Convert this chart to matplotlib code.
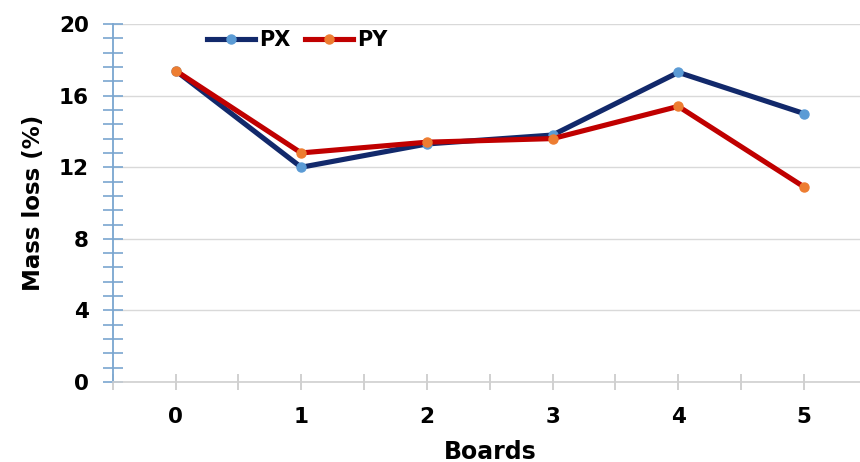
import numpy as np
import matplotlib.pyplot as plt
from matplotlib.ticker import MultipleLocator

# Data
boards = [0, 1, 2, 3, 4, 5]
px = [17.4, 12.0, 13.3, 13.8, 17.3, 15.0]
py = [17.4, 12.8, 13.4, 13.6, 15.4, 10.9]

fig = plt.figure(figsize=(8.6, 4.62), dpi=100)
ax = fig.add_axes([0.131, 0.173, 0.877, 0.775])

ax.plot(boards, px, color='#12296b', lw=3.7, marker='o', ms=6.5,
        mfc='#5b9bd5', mec='#5b9bd5', label='PX', zorder=3)
ax.plot(boards, py, color='#c00000', lw=3.7, marker='o', ms=6.5,
        mfc='#ed7d31', mec='#ed7d31', label='PY', zorder=3)

ax.set_xlim(-0.5, 5.5)
ax.set_ylim(0, 20)
ax.set_xticks(boards)
ax.set_xticks(np.arange(-0.5, 5.6, 1), minor=True)
ax.yaxis.set_major_locator(MultipleLocator(4))
ax.yaxis.set_minor_locator(MultipleLocator(0.8))

ax.grid(axis='y', color='#d9d9d9', lw=1)
ax.set_axisbelow(True)

for s in ['top', 'right']:
    ax.spines[s].set_visible(False)
ax.spines['left'].set_color('#7aa6d0')
ax.spines['left'].set_linewidth(1.3)
ax.spines['bottom'].set_color('#d0d0d0')
ax.spines['bottom'].set_linewidth(1.2)

ax.tick_params(axis='y', which='both', direction='inout', color='#7aa6d0',
               length=14, width=1.2, labelsize=15.5, pad=10)
ax.tick_params(axis='x', which='both', direction='inout', color='#c8c8c8',
               length=12, width=1.2, labelsize=15.5, pad=12)
for lab in ax.get_xticklabels() + ax.get_yticklabels():
    lab.set_fontweight('bold')

ax.set_xlabel('Boards', fontsize=17, fontweight='bold', labelpad=9)
ax.set_ylabel('Mass loss (%)', fontsize=16.5, fontweight='bold', labelpad=10)

leg = ax.legend(loc='upper left', bbox_to_anchor=(0.1, 1.035), ncol=2,
                frameon=False, handlelength=2.3, columnspacing=0.7,
                handletextpad=0.2, prop={'weight': 'bold', 'size': 15})

fig.savefig('out.png', dpi=100)
